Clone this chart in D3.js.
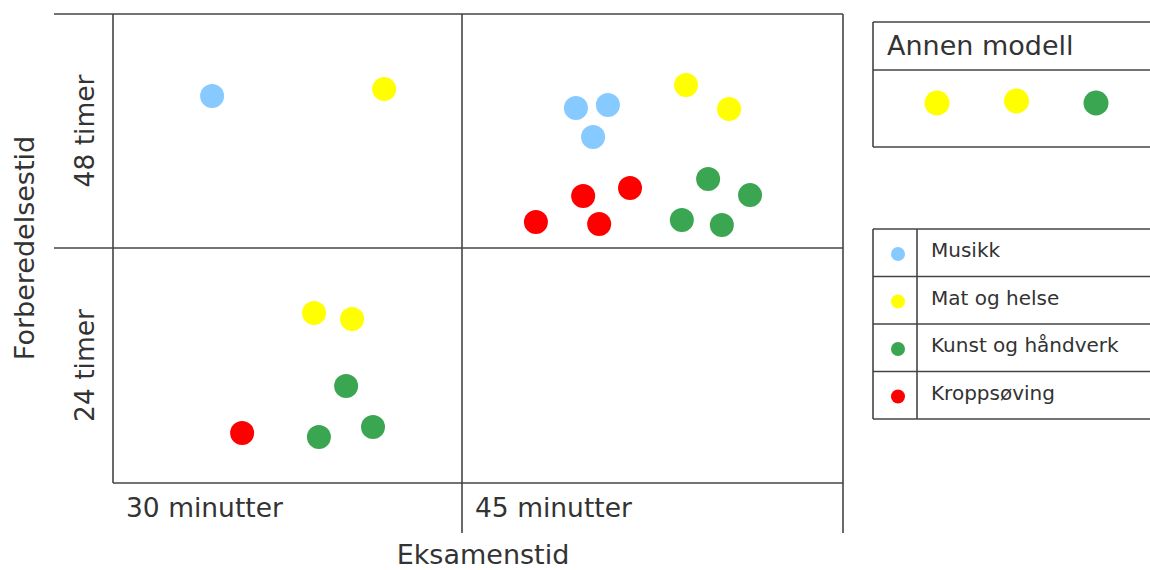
<!DOCTYPE html>
<html>
<head>
<meta charset="utf-8">
<script src="https://cdn.jsdelivr.net/npm/d3@7/dist/d3.min.js"></script>
</head>
<body style="margin: 0; background: #fff;">
<div id="chart"></div>
<script>
'use strict';

// categories
var examTimes = ["30 minutter", "45 minutter"];
var prepTimes = ["24 timer", "48 timer"];
var subjects = ["Musikk", "Mat og helse", "Kunst og håndverk", "Kroppsøving"];
var subjectColors = ["#87CAFF", "#FFFF00", "#3BA651", "#FF0000"];

// points: x = exam cell (0/1) + position in cell, y = prep cell (0/1) + position in cell
var pointSubject = [0, 1, 1, 1, 2, 3, 2, 2, 0, 0, 0, 1, 1, 3, 3, 3, 3, 2, 2, 2, 2];
var pointX = [0.284, 0.777, 0.576, 0.685, 0.668, 0.370, 0.590, 0.745,
              1.299, 1.383, 1.344, 1.588, 1.701, 1.318, 1.441, 1.194, 1.360, 1.646, 1.756, 1.577, 1.682];
var pointY = [1.650, 1.679, 0.723, 0.698, 0.413, 0.213, 0.196, 0.238,
              1.598, 1.611, 1.474, 1.697, 1.594, 1.222, 1.256, 1.111, 1.103, 1.295, 1.226, 1.120, 1.098];

// "Annen modell" box
var otherModel = [1, 1, 2];
var otherModelY = [0.571, 0.597, 0.571];

var width = 1150, height = 570;
var lineColor = "#444", textColor = "#333";
var font = "'DejaVu Sans', Verdana, sans-serif";

var svg = d3.select("#chart").append("svg")
    .attr("width", width)
    .attr("height", height);

// cells are not the same width, so piecewise scales
var x = d3.scaleLinear().domain([0, 1, 2]).range([113, 462, 843]);
var y = d3.scaleLinear().domain([0, 1, 2]).range([483, 248, 14]);

var grid = svg.append("g")
    .attr("stroke", lineColor)
    .attr("stroke-width", 1.6)
    .attr("fill", "none");

// horizontal lines
grid.append("line").attr("x1", 54).attr("x2", x(2)).attr("y1", y(2)).attr("y2", y(2));
grid.append("line").attr("x1", 54).attr("x2", x(2)).attr("y1", y(1)).attr("y2", y(1));
grid.append("line").attr("x1", x(0)).attr("x2", x(2)).attr("y1", y(0)).attr("y2", y(0));
// vertical lines
grid.append("line").attr("x1", x(0)).attr("x2", x(0)).attr("y1", y(2)).attr("y2", y(0));
grid.append("line").attr("x1", x(1)).attr("x2", x(1)).attr("y1", y(2)).attr("y2", 533);
grid.append("line").attr("x1", x(2)).attr("x2", x(2)).attr("y1", y(2)).attr("y2", 533);

// x category labels
svg.selectAll(".xlab")
    .data(examTimes)
    .enter().append("text")
    .attr("class", "xlab")
    .attr("x", function(d, i) { return x(i) + 13; })
    .attr("y", 517)
    .attr("font-family", font)
    .attr("font-size", 26.5)
    .attr("fill", textColor)
    .text(function(d) { return d; });

// y category labels (rotated)
svg.selectAll(".ylab")
    .data(prepTimes)
    .enter().append("text")
    .attr("class", "ylab")
    .attr("transform", function(d, i) { return "translate(94," + y(i + 0.5) + ") rotate(-90)"; })
    .attr("text-anchor", "middle")
    .attr("font-family", font)
    .attr("font-size", 26.5)
    .attr("fill", textColor)
    .text(function(d) { return d; });

// axis titles
svg.append("text")
    .attr("x", 483)
    .attr("y", 564)
    .attr("text-anchor", "middle")
    .attr("font-family", font)
    .attr("font-size", 27)
    .attr("fill", textColor)
    .text("Eksamenstid");

svg.append("text")
    .attr("transform", "translate(34," + y(1) + ") rotate(-90)")
    .attr("text-anchor", "middle")
    .attr("font-family", font)
    .attr("font-size", 27)
    .attr("fill", textColor)
    .text("Forberedelsestid");

// points
svg.append("g").selectAll("circle")
    .data(pointX)
    .enter().append("circle")
    .attr("cx", function(d) { return x(d); })
    .attr("cy", function(d, i) { return y(pointY[i]); })
    .attr("r", 12)
    .attr("fill", function(d, i) { return subjectColors[pointSubject[i]]; });

// box: Annen modell
var box = svg.append("g").attr("stroke", lineColor).attr("stroke-width", 1.6).attr("fill", "none");
box.append("line").attr("x1", 873).attr("x2", width).attr("y1", 22).attr("y2", 22);
box.append("line").attr("x1", 873).attr("x2", width).attr("y1", 70).attr("y2", 70);
box.append("line").attr("x1", 873).attr("x2", width).attr("y1", 147).attr("y2", 147);
box.append("line").attr("x1", 873).attr("x2", 873).attr("y1", 22).attr("y2", 147);

svg.append("text")
    .attr("x", 887)
    .attr("y", 55)
    .attr("font-family", font)
    .attr("font-size", 27)
    .attr("fill", textColor)
    .text("Annen modell");

var ox = d3.scalePoint().domain(d3.range(otherModel.length)).range([937, 1096]);
var oy = d3.scaleLinear().domain([0, 1]).range([147, 70]);
svg.append("g").selectAll("circle")
    .data(otherModel)
    .enter().append("circle")
    .attr("cx", function(d, i) { return ox(i); })
    .attr("cy", function(d, i) { return oy(otherModelY[i]); })
    .attr("r", 12.5)
    .attr("fill", function(d) { return subjectColors[d]; });

// legend table
var rowY = d3.scaleLinear().domain([0, subjects.length]).range([229, 419]);
var leg = svg.append("g").attr("stroke", lineColor).attr("stroke-width", 1.6).attr("fill", "none");
d3.range(subjects.length + 1).forEach(function(i) {
    leg.append("line").attr("x1", 873).attr("x2", width).attr("y1", rowY(i)).attr("y2", rowY(i));
});
leg.append("line").attr("x1", 873).attr("x2", 873).attr("y1", rowY(0)).attr("y2", rowY(subjects.length));
leg.append("line").attr("x1", 917).attr("x2", 917).attr("y1", rowY(0)).attr("y2", rowY(subjects.length));

var rows = svg.selectAll(".legrow")
    .data(subjects)
    .enter().append("g")
    .attr("class", "legrow");

rows.append("circle")
    .attr("cx", 898)
    .attr("cy", function(d, i) { return rowY(i) + 25; })
    .attr("r", 7)
    .attr("fill", function(d, i) { return subjectColors[i]; });

rows.append("text")
    .attr("x", 931)
    .attr("y", function(d, i) { return rowY(i) + 28; })
    .attr("font-family", font)
    .attr("font-size", 20)
    .attr("fill", textColor)
    .text(function(d) { return d; });
</script>
</body>
</html>
